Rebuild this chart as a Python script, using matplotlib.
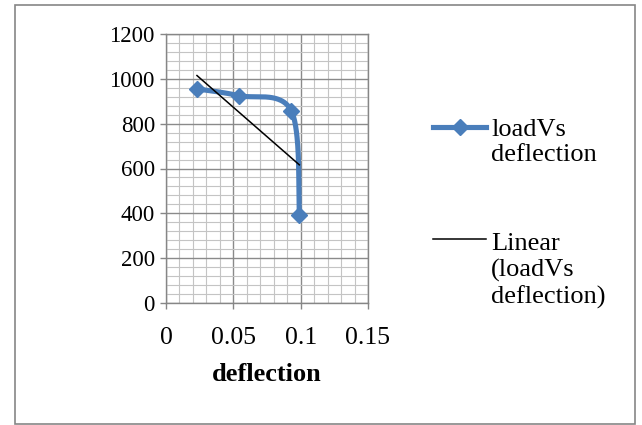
import matplotlib
matplotlib.use('Agg')
import matplotlib.pyplot as plt
import numpy as np
from matplotlib.lines import Line2D
from matplotlib.patches import Rectangle
from matplotlib.ticker import MultipleLocator

# ---- data ----
deflection = [0.023, 0.054, 0.093, 0.099]
load = [955, 925, 858, 393]
x_ticks = [0, 0.05, 0.1, 0.15]
x_tick_labels = ['0', '0.05', '0.1', '0.15']
y_ticks = [0, 200, 400, 600, 800, 1000, 1200]
y_tick_labels = ['0', '200', '400', '600', '800', '1000', '1200']
series_label = 'loadVs\ndeflection'
trend_label = 'Linear\n(loadVs\ndeflection)'
x_label = 'deflection'

BLUE = '#4A7EBB'
GRAY = '#868686'
FONT = 'Liberation Serif'

W, H = 642, 425
fig = plt.figure(figsize=(W / 100, H / 100), dpi=100)


def fx(px):
    return px / W


def fy(py):
    return 1 - py / H


ax = fig.add_axes([fx(166), fy(303), fx(368) - fx(166), fy(34) - fy(303)])


def smooth(xs, ys, n=60):
    P = np.column_stack([xs, ys]).astype(float)
    out = []
    for i in range(len(P) - 1):
        p0 = P[i - 1] if i > 0 else P[i]
        p1, p2 = P[i], P[i + 1]
        p3 = P[i + 2] if i + 2 < len(P) else P[i + 1]
        c1 = p1 + (p2 - p0) / 6
        c2 = p2 - (p3 - p1) / 6
        t = np.linspace(0, 1, n)[:, None]
        seg = (1 - t) ** 3 * p1 + 3 * (1 - t) ** 2 * t * c1 + 3 * (1 - t) * t ** 2 * c2 + t ** 3 * p2
        out.append(seg if i == 0 else seg[1:])
    return np.vstack(out)


curve = smooth(deflection, load)
ax.plot(curve[:, 0], curve[:, 1], color=BLUE, lw=3.7, solid_capstyle='round', zorder=3)
ax.plot(deflection, load, linestyle='none', marker='D', ms=8.3, color=BLUE, mec=BLUE, zorder=4)

coef = np.polyfit(deflection, load, 1)
tx = np.array([min(deflection), max(deflection)])
ax.plot(tx, np.polyval(coef, tx), color='black', lw=1.1, zorder=5)

ax.set_xlim(0, 0.15)
ax.set_ylim(0, 1200)
ax.set_xticks(x_ticks)
ax.set_xticklabels(x_tick_labels)
ax.set_yticks(y_ticks)
ax.set_yticklabels(y_tick_labels)
ax.xaxis.set_minor_locator(MultipleLocator(0.01))
ax.yaxis.set_minor_locator(MultipleLocator(40))
ax.grid(which='minor', color='#c4c4c4', lw=0.8)
ax.grid(which='major', color='#8a8a8a', lw=1.0)
ax.set_axisbelow(True)
for s in ax.spines.values():
    s.set_color(GRAY)
    s.set_linewidth(1.0)
ax.tick_params(axis='both', which='minor', length=0)
ax.tick_params(axis='y', which='major', direction='out', length=4.5, width=1, color=GRAY,
               pad=3.5, labelsize=16.5)
ax.tick_params(axis='x', which='major', direction='out', length=4.5, width=1, color=GRAY,
               pad=13, labelsize=18.5)
for lab in ax.get_xticklabels() + ax.get_yticklabels():
    lab.set_fontfamily(FONT)
ax.set_xlabel(x_label, fontsize=19, fontweight='bold', family=FONT, labelpad=10)

# outer chart border
fig.add_artist(Rectangle((fx(15), fy(424)), fx(635) - fx(15), fy(5) - fy(424),
                         transform=fig.transFigure, fill=False, ec=GRAY, lw=1.2))

# legend
fig.add_artist(Line2D([fx(433), fx(486)], [fy(127), fy(127)], transform=fig.transFigure,
                      color=BLUE, lw=3.7))
fig.add_artist(Line2D([fx(459.5)], [fy(127)], transform=fig.transFigure, marker='D', ms=8.3,
                      color=BLUE, mec=BLUE, linestyle='none'))
fig.text(fx(491), fy(142.5), series_label, ha='left', va='center', fontsize=19, family=FONT,
         linespacing=1.2)
fig.add_artist(Line2D([fx(433), fx(486)], [fy(239), fy(239)], transform=fig.transFigure,
                      color='black', lw=1.1))
fig.text(fx(491), fy(271), trend_label, ha='left', va='center', fontsize=19, family=FONT,
         linespacing=1.2)

fig.savefig('out.png', dpi=100)
